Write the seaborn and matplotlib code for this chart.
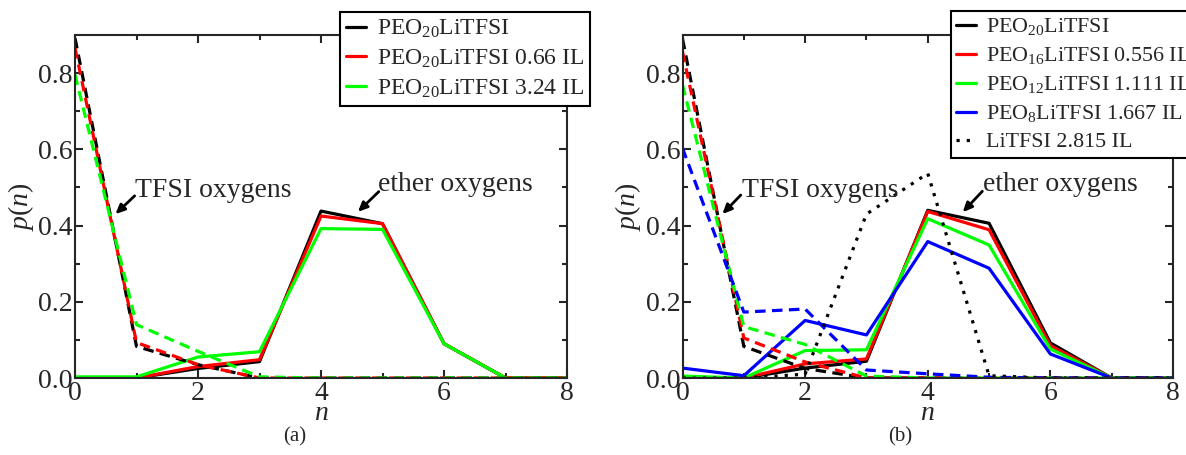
import numpy as np
import pandas as pd
import seaborn as sns
import matplotlib
matplotlib.use("Agg")
import matplotlib.pyplot as plt

# ---------------- data ----------------
n = [0, 1, 2, 3, 4, 5, 6, 7, 8]

# panel (a): ether oxygens (solid) and TFSI oxygens (dashed)
a_labels = [r"PEO$_{\mathrm{20}}$LiTFSI",
            r"PEO$_{\mathrm{20}}$LiTFSI 0.66 IL",
            r"PEO$_{\mathrm{20}}$LiTFSI 3.24 IL"]
a_ether_0 = [0.0, 0.0, 0.025, 0.043, 0.438, 0.405, 0.09, 0.0, 0.0]
a_ether_1 = [0.0, 0.0, 0.030, 0.048, 0.425, 0.405, 0.09, 0.0, 0.0]
a_ether_2 = [0.003, 0.003, 0.055, 0.069, 0.392, 0.390, 0.09, 0.0, 0.0]
a_tfsi_0 = [0.892, 0.083, 0.035, 0.0, 0.0, 0.0, 0.0, 0.0, 0.0]
a_tfsi_1 = [0.866, 0.093, 0.035, 0.0, 0.0, 0.0, 0.0, 0.0, 0.0]
a_tfsi_2 = [0.796, 0.140, 0.070, 0.003, 0.0, 0.0, 0.0, 0.0, 0.0]

# panel (b)
b_labels = [r"PEO$_{\mathrm{20}}$LiTFSI",
            r"PEO$_{\mathrm{16}}$LiTFSI 0.556 IL",
            r"PEO$_{\mathrm{12}}$LiTFSI 1.111 IL",
            r"PEO$_{\mathrm{8}}$LiTFSI 1.667 IL",
            "LiTFSI 2.815 IL"]
b_ether_0 = [0.0, 0.0, 0.026, 0.044, 0.440, 0.406, 0.092, 0.0, 0.0]
b_ether_1 = [0.0, 0.0, 0.037, 0.050, 0.437, 0.389, 0.085, 0.0, 0.0]
b_ether_2 = [0.005, 0.0, 0.072, 0.074, 0.418, 0.349, 0.076, 0.0, 0.0]
b_ether_3 = [0.026, 0.006, 0.151, 0.113, 0.358, 0.288, 0.063, 0.0, 0.0]
b_tfsi_0 = [0.890, 0.083, 0.025, 0.0, 0.0, 0.0, 0.0, 0.0, 0.0]
b_tfsi_1 = [0.856, 0.105, 0.042, 0.0, 0.0, 0.0, 0.0, 0.0, 0.0]
b_tfsi_2 = [0.769, 0.135, 0.088, 0.005, 0.0, 0.0, 0.0, 0.0, 0.0]
b_tfsi_3 = [0.603, 0.173, 0.181, 0.021, 0.011, 0.002, 0.0, 0.0, 0.0]
b_litfsi = [0.0, 0.0, 0.01, 0.430, 0.537, 0.006, 0.0, 0.0, 0.0]

colors = ["#000000", "#ff0000", "#00ff00", "#0000ff"]

# ---------------- style ----------------
sns.set_style("ticks")
plt.rcParams["font.family"] = ["Liberation Serif", "DejaVu Serif"]
plt.rcParams["mathtext.fontset"] = "custom"
plt.rcParams["mathtext.rm"] = "Liberation Serif"
plt.rcParams["mathtext.it"] = "Liberation Serif:italic"
plt.rcParams["axes.linewidth"] = 1.5

fig = plt.figure(figsize=(11.86, 4.55), dpi=100)
W, H = 1186, 455
axA = fig.add_axes([75 / W, 1 - 378 / H, (567 - 75) / W, (378 - 35) / H])
axB = fig.add_axes([682.5 / W, 1 - 378 / H, (1173 - 682.5) / W, (378 - 35) / H])

LW = 2.3
DASH = (0, (3.3, 2.0))
DOT = (0, (1, 2.2))


def draw(ax, x, y, color, ls, label=None):
    sns.lineplot(x=x, y=y, ax=ax, color=color, linewidth=LW, linestyle=ls,
                 label=label, legend=False, estimator=None, sort=False)
    return ax.lines[-1]


# panel (a)
hA = []
for vals, c, lab in zip([a_ether_0, a_ether_1, a_ether_2], colors, a_labels):
    hA.append(draw(axA, n, vals, c, "-", lab))
for vals, c in zip([a_tfsi_0, a_tfsi_1, a_tfsi_2], colors):
    draw(axA, n, vals, c, DASH)

# panel (b)
hB = []
for vals, c, lab in zip([b_ether_0, b_ether_1, b_ether_2, b_ether_3], colors, b_labels[:4]):
    hB.append(draw(axB, n, vals, c, "-", lab))
for vals, c in zip([b_tfsi_0, b_tfsi_1, b_tfsi_2, b_tfsi_3], colors):
    draw(axB, n, vals, c, DASH)
hB.append(draw(axB, n, b_litfsi, "#000000", DOT, b_labels[4]))

for ax in (axA, axB):
    ax.set_xlim(0, 8)
    ax.set_ylim(0, 0.9)
    ax.set_xticks([0, 2, 4, 6, 8])
    ax.set_xticks([1, 3, 5, 7], minor=True)
    ax.set_yticks([0, 0.2, 0.4, 0.6, 0.8])
    ax.set_yticks([0.1, 0.3, 0.5, 0.7], minor=True)
    ax.set_yticklabels(["0.0", "0.2", "0.4", "0.6", "0.8"])
    ax.tick_params(which="both", direction="in", top=True, right=True,
                   width=1.5, labelsize=20)
    ax.tick_params(axis="y", pad=1.5)
    ax.tick_params(axis="x", pad=2.5)
    ax.tick_params(which="major", length=6)
    ax.tick_params(which="minor", length=3.6)
    for s in ax.spines.values():
        s.set_visible(True)
        s.set_linewidth(1.5)
    ax.set_xlabel(r"$n$", fontsize=20, labelpad=-4)
    ax.set_ylabel(r"$p(n)$", fontsize=20, labelpad=2)

# annotations: text + arrow
arrowprops = dict(arrowstyle="-|>,head_length=0.55,head_width=0.25", color="black",
                  lw=2.0, shrinkA=0, shrinkB=0)


def label_arrow(ax, text, tx, ty, ax0, ay0, hx, hy):
    ax.text(tx, ty, text, fontsize=20, ha="left", va="baseline")
    ax.annotate("", xy=(hx, hy), xytext=(ax0, ay0), arrowprops=arrowprops)


label_arrow(axA, "TFSI oxygens", 0.98, 0.475, 0.97, 0.478, 0.657, 0.43)
label_arrow(axA, "ether oxygens", 4.93, 0.49, 4.94, 0.489, 4.6, 0.436)
label_arrow(axB, "TFSI oxygens", 0.97, 0.475, 0.95, 0.48, 0.65, 0.43)
label_arrow(axB, "ether oxygens", 4.9, 0.49, 4.89, 0.49, 4.57, 0.435)

# legends
legkw = dict(frameon=True, fancybox=False, framealpha=1,
             edgecolor="black", handletextpad=0.45,
             borderpad=0.25, borderaxespad=0,
             bbox_transform=fig.transFigure)
legA = axA.legend(handles=hA, labels=a_labels, loc="upper right", fontsize=17,
                  handlelength=0.85,
                  bbox_to_anchor=(590 / W, 1 - 12 / H), labelspacing=0.32, **legkw)
legA.get_frame().set_linewidth(1.5)
legB = axB.legend(handles=hB, labels=b_labels, loc="upper left", fontsize=15.8,
                  handlelength=0.9,
                  bbox_to_anchor=(951 / W, 1 - 11 / H), labelspacing=0.36, **legkw)
legB.get_frame().set_linewidth(1.5)

# captions
fig.text(295 / W, 1 - 437 / H, "(a)", fontsize=15, ha="center", va="center")
fig.text(900 / W, 1 - 437 / H, "(b)", fontsize=15, ha="center", va="center")

fig.savefig("out.png", dpi=100)
